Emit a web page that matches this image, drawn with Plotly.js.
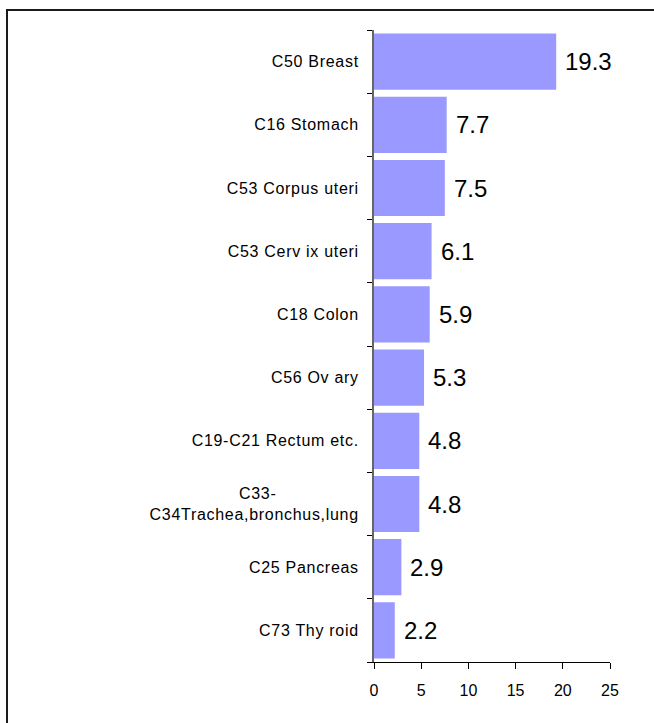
<!DOCTYPE html>
<html>
<head>
<meta charset="utf-8">
<script src="https://cdn.plot.ly/plotly-3.0.1.min.js"></script>
<style>
  html, body { margin: 0; padding: 0; background: #fff; overflow: hidden; }
  #wrap { position: relative; width: 654px; height: 723px; }
  #chart { width: 654px; height: 723px; }
  #frame { position: absolute; left: 6px; top: 9px; width: 760px; height: 800px;
           border-left: 2px solid #1a1a1a; border-top: 2px solid #1a1a1a; pointer-events: none; }
  .ytick text { letter-spacing: 0.7px; }
</style>
</head>
<body>
<div id="wrap">
  <div id="chart"></div>
  <div id="frame"></div>
</div>
<script>
const categories = [
  "C50 Breast",
  "C16 Stomach",
  "C53 Corpus uteri",
  "C53 Cerv ix uteri",
  "C18 Colon",
  "C56 Ov ary",
  "C19-C21 Rectum etc.",
  "C33-<br>C34Trachea,bronchus,lung",
  "C25 Pancreas",
  "C73 Thy roid"
];
const values = [19.3, 7.7, 7.5, 6.1, 5.9, 5.3, 4.8, 4.8, 2.9, 2.2];
const xTicks = [0, 5, 10, 15, 20, 25];

// center the first line of two-line labels over the second line
const NB = "\u00a0";
const tickText = categories.map(c => {
  const parts = c.split("<br>");
  if (parts.length === 2) return parts[0] + NB.repeat(16) + "<br>" + parts[1];
  return c;
});

const trace = {
  type: "bar",
  orientation: "h",
  x: values,
  y: categories,
  marker: { color: "#9999FF", line: { width: 0 } },
  hoverinfo: "none"
};

const annotations = values.map((v, i) => ({
  x: v, y: categories[i], xref: "x", yref: "y",
  text: String(v), showarrow: false, xanchor: "left", yanchor: "middle",
  xshift: 7,
  font: { family: "Liberation Sans, Arial, sans-serif", size: 24, color: "#000" }
}));

const layout = {
  width: 654, height: 723,
  margin: { l: 374, r: 44, t: 30, b: 61 },
  paper_bgcolor: "#fff", plot_bgcolor: "#fff",
  showlegend: false,
  bargap: 0.11,
  font: { family: "Liberation Sans, Arial, sans-serif", size: 16, color: "#000" },
  xaxis: {
    range: [0, 25], tickmode: "array", tickvals: xTicks, ticktext: xTicks.map(String),
    showgrid: false, zeroline: false,
    showline: true, linecolor: "#000", linewidth: 1,
    ticks: "outside", ticklen: 6, tickwidth: 1, tickcolor: "#000",
    ticklabelstandoff: 8,
    tickfont: { size: 16 }, fixedrange: true
  },
  yaxis: {
    type: "category", autorange: "reversed",
    tickmode: "array", tickvals: categories, ticktext: tickText,
    tickson: "boundaries",
    showgrid: false, zeroline: false,
    showline: true, linecolor: "#666", linewidth: 2,
    ticks: "outside", ticklen: 5, tickwidth: 1, tickcolor: "#000",
    ticklabelstandoff: 10,
    tickfont: { size: 16 }, fixedrange: true
  },
  annotations: annotations
};

Plotly.newPlot("chart", [trace], layout, { displayModeBar: false, staticPlot: true });
</script>
</body>
</html>
